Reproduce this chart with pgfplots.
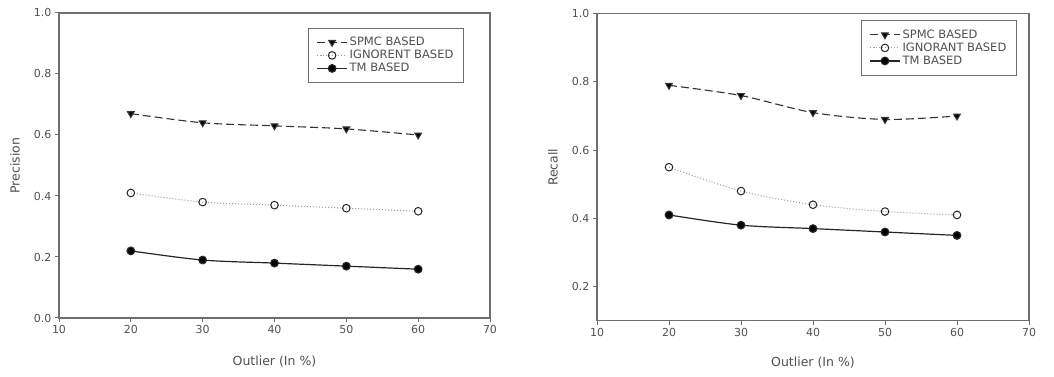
\documentclass[border=0pt]{standalone}
\usepackage{pgfplots}
\pgfplotsset{compat=1.18}
\usepackage{fontspec}
\setmainfont{DejaVu Sans}
\definecolor{axgray}{HTML}{6E6E6E}
\definecolor{txtgray}{HTML}{505050}
\tikzset{lbl/.style={font=\fontsize{12.5}{14}\selectfont, text=txtgray}}
\pgfplotstableread{
x spmc ign tm
20 0.67 0.41 0.22
30 0.64 0.38 0.19
40 0.63 0.37 0.18
50 0.62 0.36 0.17
60 0.60 0.35 0.16
}\precdata
\pgfplotstableread{
x spmc ign tm
20 0.79 0.55 0.41
30 0.76 0.48 0.38
40 0.71 0.44 0.37
50 0.69 0.42 0.36
60 0.70 0.41 0.35
}\recdata
\begin{document}
\begin{tikzpicture}[x=1pt,y=1pt]
\path (0,0) rectangle (1054,377);
\pgfplotsset{
  common/.style={
    scale only axis,
    xmin=10, xmax=70, xtick={10,20,...,70},
    tick pos=left, tick align=outside,
    major tick length=4pt,
    axis line style={draw=axgray, line width=1.2pt},
    every tick/.style={draw=axgray, line width=1pt},
    tick label style={font=\fontsize{11}{13}\selectfont, text=txtgray},
    /pgf/number format/assume math mode=true,
    yticklabel style={/pgf/number format/.cd, fixed, fixed zerofill, precision=1},
    legend cell align=left,
    legend style={draw=axgray, line width=0.8pt, font=\fontsize{11.5}{13}\selectfont,
      text=txtgray, inner xsep=8pt, inner ysep=7pt, row sep=-1pt, anchor=north west},
    legend image code/.code={\draw[mark repeat=2,mark phase=2] plot coordinates {(0pt,0pt)(15pt,0pt)(30pt,0pt)};},
    every axis y label/.style={at={(axis description cs:-0.102,0.5)}, rotate=90, anchor=center, lbl},
  },
  spmc/.style={color=black!80, line width=1.1pt, dash pattern=on 8pt off 4pt, smooth,
    mark=triangle*, mark size=3.8pt, mark options={solid, rotate=180, fill=black}},
  ign/.style={color=black!40, line width=1pt, dotted, smooth,
    mark=o, mark size=3.8pt, mark options={solid, draw=black!85, line width=1pt}},
  tm/.style={color=black!85, line width=1.2pt, solid, smooth,
    mark=*, mark size=3.8pt, mark options={fill=black}},
}
\begin{axis}[common, at={(59pt,59pt)}, anchor=south west,
  width=431pt, height=305pt,
  ymin=0, ymax=1, ytick={0,0.2,...,1.0},
  xlabel={Outlier (In \%)}, ylabel={Precision},
  every axis x label/.style={at={(axis description cs:0.5,-0.144)}, anchor=center, lbl},
  legend style={at={(0.578,0.951)}}]
\addplot[spmc] table[x=x,y=spmc]{\precdata};
\addlegendentry{SPMC BASED}
\addplot[ign] table[x=x,y=ign]{\precdata};
\addlegendentry{IGNORENT BASED}
\addplot[tm] table[x=x,y=tm]{\precdata};
\addlegendentry{TM BASED}
\end{axis}
\begin{axis}[common, at={(597pt,56.3pt)}, anchor=south west,
  width=432pt, height=307pt,
  ymin=0.1, ymax=1, ytick={0.2,0.4,...,1.0},
  xlabel={Outlier (In \%)}, ylabel={Recall},
  every axis x label/.style={at={(axis description cs:0.5,-0.137)}, anchor=center, lbl},
  legend style={at={(0.611,0.978)}}]
\addplot[spmc] table[x=x,y=spmc]{\recdata};
\addlegendentry{SPMC BASED}
\addplot[ign] table[x=x,y=ign]{\recdata};
\addlegendentry{IGNORANT BASED}
\addplot[tm] table[x=x,y=tm]{\recdata};
\addlegendentry{TM BASED}
\end{axis}
\end{tikzpicture}
\end{document}
